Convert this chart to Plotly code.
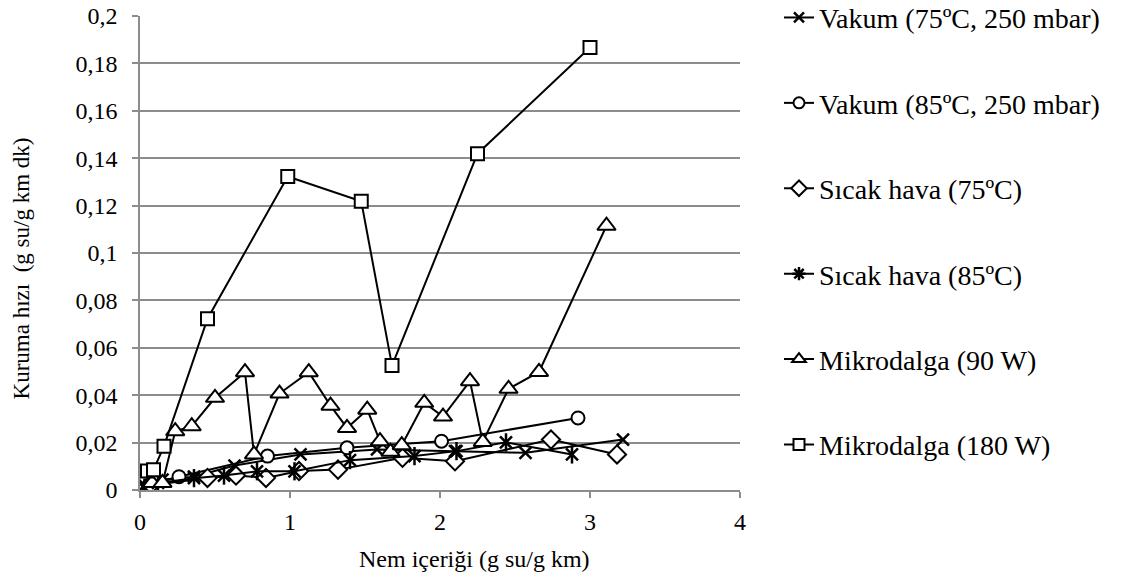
import plotly.graph_objects as go

# Nem içeriği (g su/g km) ve kuruma hızı (g su/g km dk) ölçümleri
vak75_x = [0.03, 0.15, 0.36, 0.63, 1.07, 1.58, 2.10, 2.57, 3.22]
vak75_y = [0.002, 0.0044, 0.0056, 0.0103, 0.0150, 0.0171, 0.0164, 0.0157, 0.0213]

vak85_x = [0.06, 0.26, 0.85, 1.38, 2.01, 2.92]
vak85_y = [0.002, 0.0056, 0.0143, 0.0178, 0.0206, 0.0304]

sh75_x = [0.07, 0.45, 0.64, 0.84, 1.06, 1.32, 1.75, 2.10, 2.74, 3.18]
sh75_y = [0.002, 0.0051, 0.0061, 0.0051, 0.0080, 0.0086, 0.0136, 0.0121, 0.0213, 0.0150]

sh85_x = [0.03, 0.12, 0.36, 0.56, 0.78, 1.03, 1.40, 1.83, 2.11, 2.44, 2.88]
sh85_y = [0.001, 0.003, 0.0050, 0.0061, 0.0079, 0.0079, 0.0126, 0.0143, 0.0164, 0.0201, 0.0150]

mw90_x = [0.08, 0.15, 0.235, 0.345, 0.50, 0.70, 0.76, 0.93, 1.125, 1.27, 1.38,
          1.515, 1.60, 1.67, 1.745, 1.895, 2.02, 2.20, 2.285, 2.457, 2.66, 3.11]
mw90_y = [0.003, 0.003, 0.0248, 0.0269, 0.0389, 0.0497, 0.0150, 0.0407, 0.0497, 0.0356, 0.0262,
          0.0339, 0.0206, 0.0161, 0.0189, 0.0368, 0.0310, 0.0459, 0.0203, 0.0427, 0.0498, 0.1115]

mw180_x = [0.05, 0.09, 0.16, 0.45, 0.985, 1.475, 1.68, 2.25, 3.00]
mw180_y = [0.008, 0.0085, 0.0185, 0.0723, 0.1323, 0.1218, 0.0525, 0.1419, 0.1867]

series_names = [
    "Vakum (75ºC, 250 mbar)",
    "Vakum (85ºC, 250 mbar)",
    "Sıcak hava (75ºC)",
    "Sıcak hava (85ºC)",
    "Mikrodalga (90 W)",
    "Mikrodalga (180 W)",
]

x_ticks = [0, 1, 2, 3, 4]
y_ticks = [0, 0.02, 0.04, 0.06, 0.08, 0.1, 0.12, 0.14, 0.16, 0.18, 0.2]
y_tick_text = ["0", "0,02", "0,04", "0,06", "0,08", "0,1", "0,12", "0,14", "0,16", "0,18", "0,2"]

FONT = "'Liberation Serif', 'Times New Roman', serif"
BLACK = "#000000"
GRID = "#8c8c8c"

hollow = dict(color="white", line=dict(color=BLACK, width=2))
styles = [
    dict(symbol="x-thin", size=12, line=dict(color=BLACK, width=2.5)),
    dict(symbol="circle", size=13, **hollow),
    dict(symbol="diamond", size=14, **hollow),
    None,  # yıldız işareti: x + dikey çizgi
    dict(symbol="triangle-up", size=16, **hollow),
    dict(symbol="square", size=13, **hollow),
]

data = [
    (vak75_x, vak75_y),
    (vak85_x, vak85_y),
    (sh75_x, sh75_y),
    (sh85_x, sh85_y),
    (mw90_x, mw90_y),
    (mw180_x, mw180_y),
]

fig = go.Figure()
line_style = dict(color=BLACK, width=2)

for i, ((xs, ys), name) in enumerate(zip(data, series_names)):
    if styles[i] is None:
        fig.add_trace(go.Scatter(
            x=xs, y=ys, mode="lines+markers", line=line_style,
            marker=dict(symbol="x-thin", size=12, line=dict(color=BLACK, width=2.5)),
            showlegend=False, hoverinfo="skip"))
        fig.add_trace(go.Scatter(
            x=xs, y=ys, mode="markers",
            marker=dict(symbol="line-ns", size=13, line=dict(color=BLACK, width=2.5)),
            showlegend=False, hoverinfo="skip"))
    else:
        fig.add_trace(go.Scatter(
            x=xs, y=ys, mode="lines+markers", line=line_style,
            marker=styles[i], showlegend=False, hoverinfo="skip"))

# Açıklama (legend) girdileri
legend_markers = [
    dict(symbol="x-thin", size=10, line=dict(color=BLACK, width=2.5)),
    dict(symbol="circle", size=11, color="white", line=dict(color=BLACK, width=2)),
    dict(symbol="diamond", size=12, color="white", line=dict(color=BLACK, width=2)),
    dict(symbol="asterisk", size=11, line=dict(color=BLACK, width=2.5)),
    dict(symbol="triangle-up", size=12, color="white", line=dict(color=BLACK, width=2)),
    dict(symbol="square", size=11, color="white", line=dict(color=BLACK, width=2)),
]
for i, name in enumerate(series_names):
    fig.add_trace(go.Scatter(
        x=[None], y=[None], mode="lines+markers", name=name,
        line=line_style, marker=legend_markers[i], legendgroup=f"g{i}"))

fig.update_layout(
    width=1138, height=584,
    margin=dict(l=140, r=398, t=16, b=94, autoexpand=False),
    paper_bgcolor="white", plot_bgcolor="white",
    font=dict(family=FONT, size=24, color=BLACK),
    showlegend=True,
    legend=dict(
        x=1.065, xanchor="left", y=1.049, yanchor="top",
        traceorder="grouped", tracegroupgap=46, maxheight=600,
        font=dict(family=FONT, size=28, color=BLACK),
        bgcolor="rgba(0,0,0,0)", itemwidth=30,
    ),
    xaxis=dict(
        range=[0, 4], tickvals=x_ticks, ticktext=[str(v) for v in x_ticks],
        showgrid=False, zeroline=False,
        showline=True, linecolor=GRID, linewidth=1.5,
        ticks="outside", ticklen=6, tickcolor=GRID, tickwidth=1.5,
        ticklabelstandoff=3,
        tickfont=dict(family=FONT, size=24, color=BLACK),
    ),
    yaxis=dict(
        range=[0, 0.2], tickvals=y_ticks, ticktext=y_tick_text,
        showgrid=True, gridcolor=GRID, gridwidth=1.5, zeroline=False,
        showline=True, linecolor=GRID, linewidth=1.5,
        ticks="outside", ticklen=6, tickcolor=GRID, tickwidth=1.5,
        ticklabelstandoff=10,
        tickfont=dict(family=FONT, size=24, color=BLACK),
    ),
    annotations=[
        dict(text="Nem içeriği (g su/g km)", xref="paper", yref="paper",
             x=0.557, y=-0.145, xanchor="center", yanchor="middle",
             showarrow=False, font=dict(family=FONT, size=24, color=BLACK)),
        dict(text="Kuruma hızı  (g su/g km dk)", xref="paper", yref="paper",
             x=-0.197, y=0.467, xanchor="center", yanchor="middle", textangle=-90,
             showarrow=False, font=dict(family=FONT, size=23, color=BLACK)),
    ],
)

fig.write_html("out.html")
